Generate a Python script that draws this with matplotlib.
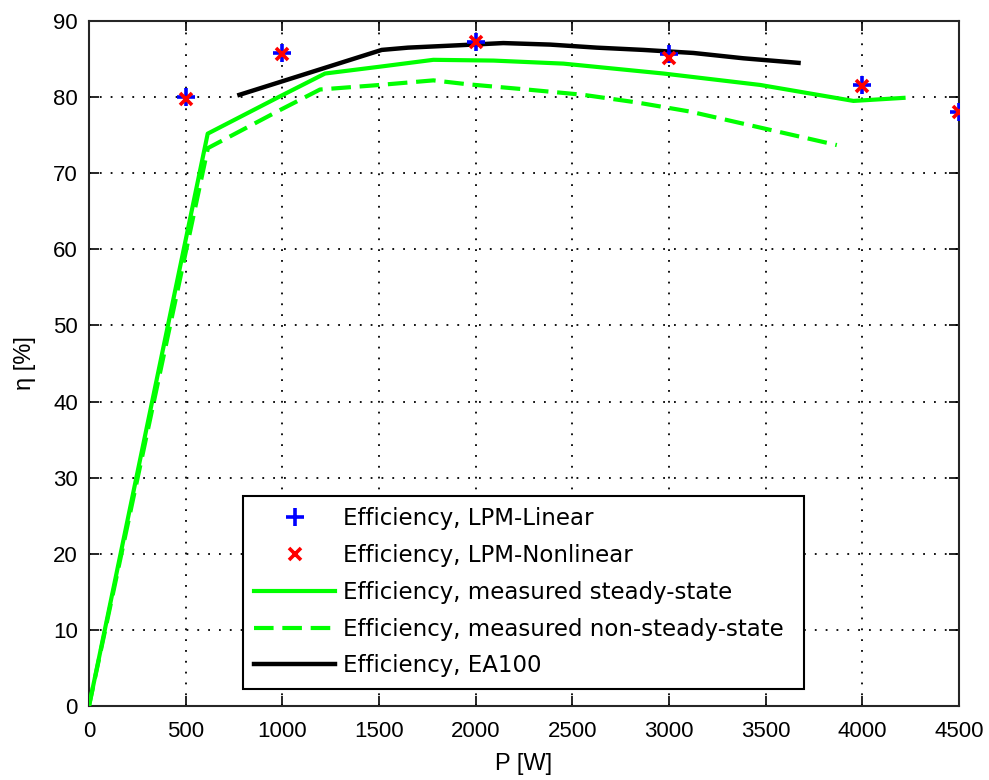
import matplotlib
matplotlib.use("Agg")
import matplotlib.pyplot as plt

# ---- data ----
p_points = [500, 1000, 2000, 3000, 4000, 4500]
eff_lpm_linear = [80.0, 85.8, 87.3, 85.6, 81.6, 78.1]
eff_lpm_nonlinear = [79.8, 85.6, 87.2, 85.2, 81.4, 78.0]

p_steady = [0, 614, 988, 1221, 1505, 1781, 2092, 2454, 2971, 3471, 3954, 4213]
eff_steady = [0.0, 75.2, 80.1, 83.1, 84.0, 84.9, 84.8, 84.4, 83.1, 81.6, 79.5, 79.9]

p_nonsteady = [0, 615, 988, 1195, 1505, 1781, 1954, 2264, 2557, 2833, 3109, 3385, 3678, 3868]
eff_nonsteady = [0.0, 73.3, 78.3, 81.0, 81.6, 82.2, 81.7, 81.0, 80.3, 79.3, 78.1, 76.5, 74.8, 73.7]

p_ea100 = [778, 1514, 1650, 1902, 2143, 2385, 2626, 2868, 3126, 3385, 3670]
eff_ea100 = [80.3, 86.2, 86.5, 86.8, 87.1, 86.9, 86.5, 86.2, 85.8, 85.1, 84.5]

x_ticks = [0, 500, 1000, 1500, 2000, 2500, 3000, 3500, 4000, 4500]
y_ticks = [0, 10, 20, 30, 40, 50, 60, 70, 80, 90]

plt.rcParams['font.family'] = ['Liberation Sans', 'DejaVu Sans']

fig = plt.figure(figsize=(9.89, 7.80), dpi=100)
ax = fig.add_axes([89/989, 74/780, 870/989, 685/780])

green = '#00ff00'
ax.plot(p_points, eff_lpm_linear, linestyle='none', marker='+', color='#0000ff',
        markersize=13, markeredgewidth=2.6, label='Efficiency, LPM-Linear', zorder=4)
ax.plot(p_points, eff_lpm_nonlinear, linestyle='none', marker='x', color='#ff0000',
        markersize=8, markeredgewidth=2.6, label='Efficiency, LPM-Nonlinear', zorder=5)
ax.plot(p_steady, eff_steady, color=green, linewidth=3,
        label='Efficiency, measured steady-state', zorder=3)
ax.plot(p_nonsteady, eff_nonsteady, color=green, linewidth=3, dashes=(4.7, 2.1),
        label='Efficiency, measured non-steady-state', zorder=3)
ax.plot(p_ea100, eff_ea100, color='black', linewidth=3.2,
        label='Efficiency, EA100', zorder=3)

ax.set_xlim(0, 4500)
ax.set_ylim(0, 90)
ax.set_xticks(x_ticks)
ax.set_yticks(y_ticks)
ax.set_xticklabels([str(v) for v in x_ticks])
ax.set_yticklabels([str(v) for v in y_ticks])
ax.tick_params(direction='in', length=7, width=1.2, top=True, right=True,
               labelsize=16, colors='black')
ax.tick_params(axis='x', pad=11)
ax.tick_params(axis='y', pad=8)
ax.grid(True, color='black', linestyle=(0, (1, 5)), linewidth=1.3)
for s in ax.spines.values():
    s.set_linewidth(1.5)
    s.set_color('#262626')

ax.set_xlabel('P [W]', fontsize=17, labelpad=8)
ax.set_ylabel('η [%]', fontsize=17, labelpad=12)

leg = ax.legend(loc='lower left', bbox_to_anchor=(0.177, 0.025, 0.6445, 0.28),
                mode='expand', frameon=True, fancybox=False,
                prop={'family': 'DejaVu Sans', 'size': 16.5},
                edgecolor='black', framealpha=1, handlelength=3.5,
                handletextpad=0.35, borderaxespad=0, labelspacing=0.6,
                borderpad=0.5)
leg.get_frame().set_linewidth(1.5)

fig.savefig('out.png', dpi=100)
